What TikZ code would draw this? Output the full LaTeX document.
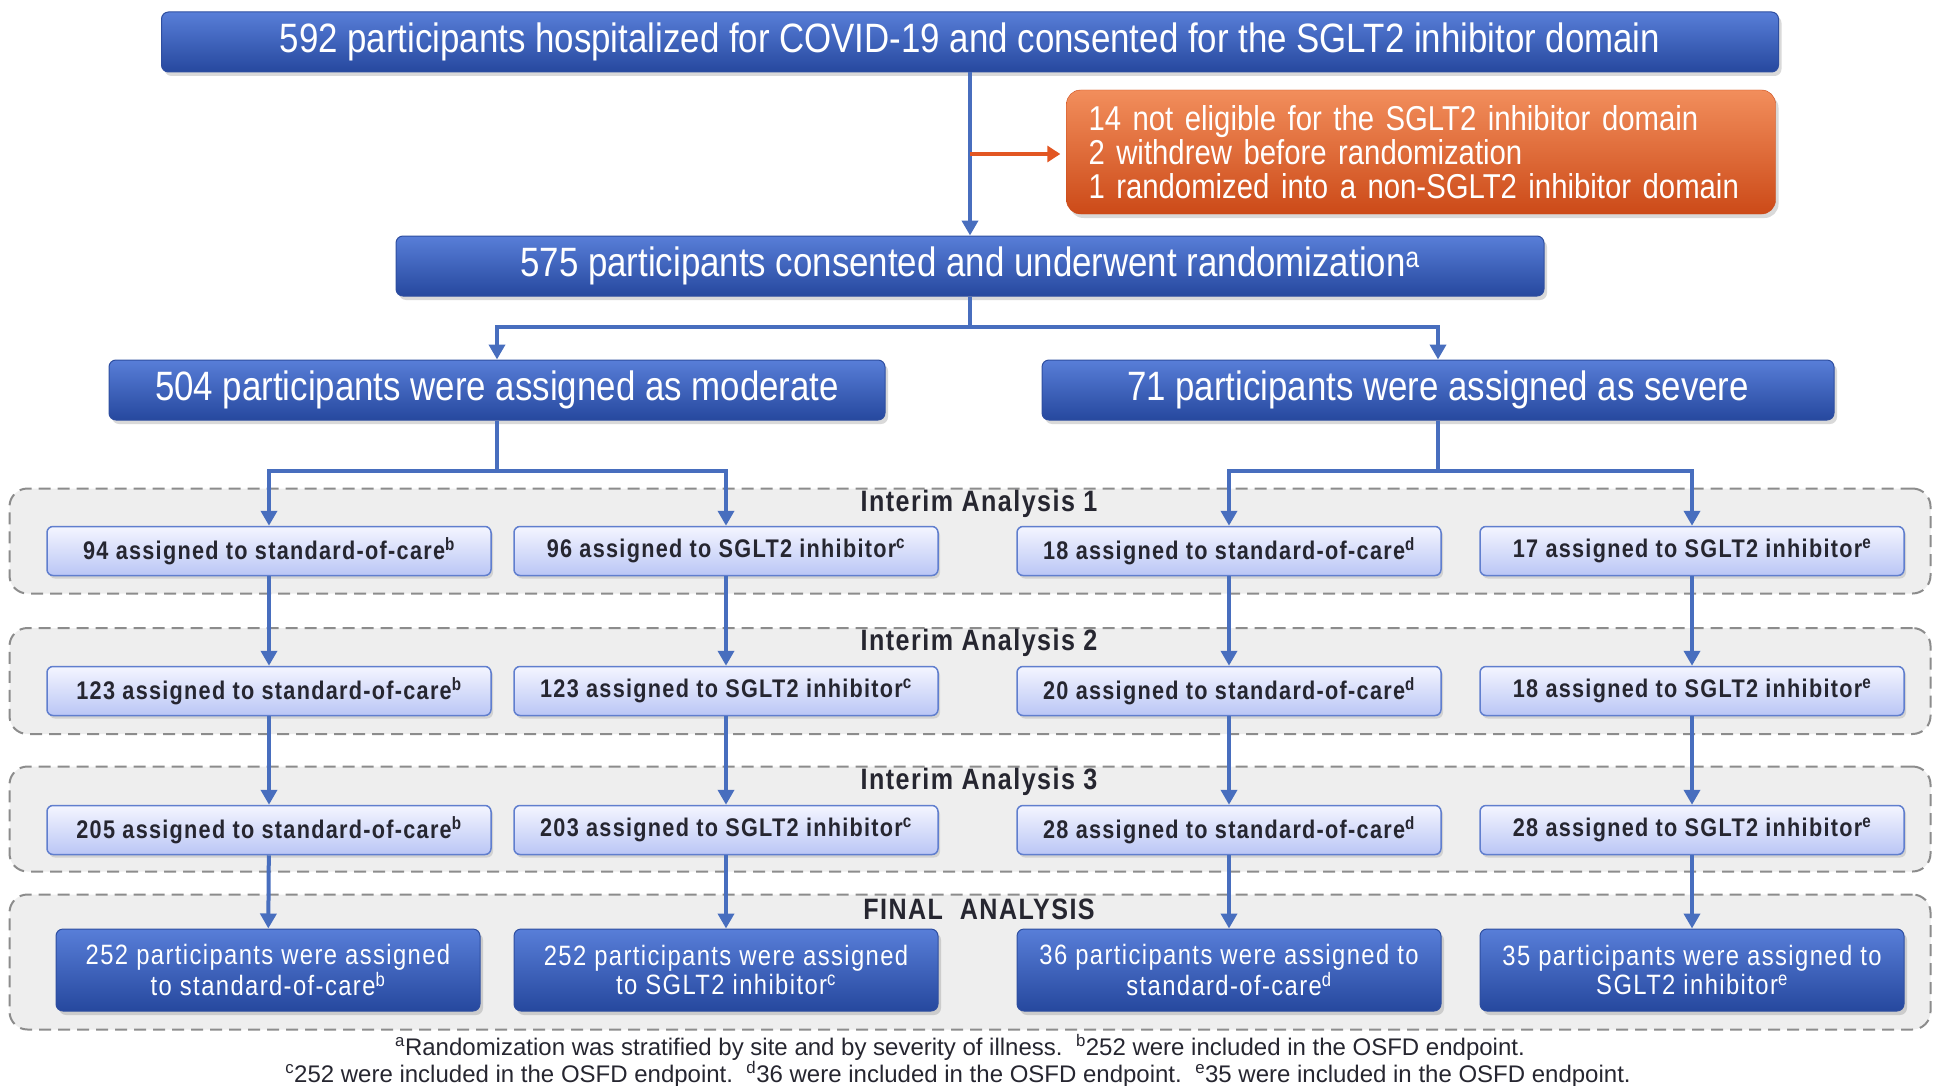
\documentclass[tikz,border=0pt]{standalone}
\usepackage{fontspec}
\setmainfont{Liberation Sans}[FakeStretch=0.85]
\newfontfamily\spacedfont{Liberation Sans}[FakeStretch=0.85,LetterSpace=5]
\newfontfamily\notefont{Liberation Sans}
\usepackage{tikz}
\usetikzlibrary{arrows.meta,calc,positioning,shadows}
\definecolor{BoxTop}{RGB}{88,126,216}
\definecolor{BoxBot}{RGB}{38,72,158}
\definecolor{BoxEdge}{RGB}{46,78,160}
\definecolor{LightTop}{RGB}{244,245,255}
\definecolor{LightBot}{RGB}{186,198,245}
\definecolor{LightEdge}{RGB}{96,126,206}
\definecolor{OrangeTop}{RGB}{242,142,92}
\definecolor{OrangeBot}{RGB}{204,74,24}
\definecolor{OrangeArrow}{RGB}{226,86,34}
\definecolor{ArrowBlue}{RGB}{72,110,190}
\definecolor{PanelFill}{RGB}{238,238,238}
\definecolor{PanelEdge}{RGB}{140,140,140}
\definecolor{TextDark}{RGB}{38,38,48}

\begin{document}
\begin{tikzpicture}[x=1pt,y=-1pt,>=Latex,
  darkbox/.style={rounded corners=7pt,top color=BoxTop,bottom color=BoxBot,draw=BoxEdge,line width=1pt,
    text=white,font=\fontsize{41}{44}\selectfont,
    drop shadow={opacity=0.3,shadow xshift=3pt,shadow yshift=-4pt}},
  orangebox/.style={rounded corners=14pt,top color=OrangeTop,bottom color=OrangeBot,draw=OrangeBot,
    text=white,font=\fontsize{34.5}{34}\selectfont,align=left,
    drop shadow={opacity=0.3,shadow xshift=3pt,shadow yshift=-4pt}},
  smallbox/.style={rounded corners=6pt,top color=LightTop,bottom color=LightBot,draw=LightEdge,line width=1.5pt,
    text=TextDark,font=\spacedfont\bfseries\fontsize{25.5}{28}\selectfont,minimum height=49pt,
    drop shadow={opacity=0.25,shadow xshift=2pt,shadow yshift=-3pt}},
  finalbox/.style={darkbox,font=\spacedfont\fontsize{28}{29}\selectfont,align=center,minimum height=82pt,minimum width=424pt},
  panel/.style={draw=PanelEdge,dash pattern=on 12pt off 7pt,line width=2pt,fill=PanelFill,
    rounded corners=18pt,minimum width=1921pt},
  stagelabel/.style={text=TextDark,font=\spacedfont\bfseries\fontsize{29.5}{30}\selectfont},
  footnote/.style={text=TextDark,font=\notefont\fontsize{24}{25}\selectfont},
  arr/.style={->,draw=ArrowBlue,line width=4pt,-{Triangle[width=16pt,length=15pt]}},
  line/.style={draw=ArrowBlue,line width=4pt},
  oarr/.style={draw=OrangeArrow,line width=4pt,-{Triangle[width=16pt,length=13pt]},shorten >=6pt}]
\useasboundingbox (0,0) rectangle (1950,1086);

% analysis panels
\node[panel,minimum height=105pt] (p1) at (970,541) {};
\node[panel,minimum height=106pt] (p2) at (970,681) {};
\node[panel,minimum height=105pt] (p3) at (970,819) {};
\node[panel,minimum height=135pt] (p4) at (970,962) {};
\node[stagelabel] (l1) at (979,504) {Interim Analysis 1};
\node[stagelabel] (l2) at (979,643) {Interim Analysis 2};
\node[stagelabel] (l3) at (979,782) {Interim Analysis 3};
\node[stagelabel] (l4) at (979,909) {FINAL\ \ ANALYSIS};

% enrolment
\node[darkbox,minimum width=1617pt,minimum height=60pt] (top) at (970,42)
  {592 participants hospitalized for COVID-19 and consented for the SGLT2 inhibitor domain};
\node[orangebox,text width=665pt,inner xsep=22pt,minimum height=124pt] (excl) at (1421,152)
  {14 not eligible for the SGLT2 inhibitor domain\\2 withdrew before randomization\\1 randomized into a non-SGLT2 inhibitor domain};
\node[darkbox,minimum width=1148pt,minimum height=60pt] (rand) at (970,266)
  {575 participants consented and underwent randomization\textsuperscript{a}};
\node[darkbox,minimum width=776pt,minimum height=60pt] (mod) at (497,390)
  {504 participants were assigned as moderate};
\node[darkbox,minimum width=792pt,minimum height=60pt] (sev) at (1438,390)
  {71 participants were assigned as severe};

% interim analysis 1
\node[smallbox,minimum width=444pt] (a1) at (269,551) {94 assigned to standard-of-care\textsuperscript{b}};
\node[smallbox,minimum width=424pt] (b1) at (726,551) {96 assigned to SGLT2 inhibitor\textsuperscript{c}};
\node[smallbox,minimum width=424pt] (c1) at (1229,551) {18 assigned to standard-of-care\textsuperscript{d}};
\node[smallbox,minimum width=424pt] (d1) at (1692,551) {17 assigned to SGLT2 inhibitor\textsuperscript{e}};
% interim analysis 2
\node[smallbox,minimum width=444pt] (a2) at (269,691) {123 assigned to standard-of-care\textsuperscript{b}};
\node[smallbox,minimum width=424pt] (b2) at (726,691) {123 assigned to SGLT2 inhibitor\textsuperscript{c}};
\node[smallbox,minimum width=424pt] (c2) at (1229,691) {20 assigned to standard-of-care\textsuperscript{d}};
\node[smallbox,minimum width=424pt] (d2) at (1692,691) {18 assigned to SGLT2 inhibitor\textsuperscript{e}};
% interim analysis 3
\node[smallbox,minimum width=444pt] (a3) at (269,830) {205 assigned to standard-of-care\textsuperscript{b}};
\node[smallbox,minimum width=424pt] (b3) at (726,830) {203 assigned to SGLT2 inhibitor\textsuperscript{c}};
\node[smallbox,minimum width=424pt] (c3) at (1229,830) {28 assigned to standard-of-care\textsuperscript{d}};
\node[smallbox,minimum width=424pt] (d3) at (1692,830) {28 assigned to SGLT2 inhibitor\textsuperscript{e}};
% final analysis
\node[finalbox] (a4) at (268,970) {252 participants were assigned\\to standard-of-care\textsuperscript{b}};
\node[finalbox] (b4) at (726,970) {252 participants were assigned\\to SGLT2 inhibitor\textsuperscript{c}};
\node[finalbox] (c4) at (1229,970) {36 participants were assigned to\\standard-of-care\textsuperscript{d}};
\node[finalbox] (d4) at (1692,970) {35 participants were assigned to\\SGLT2 inhibitor\textsuperscript{e}};

% connectors
\coordinate (jo) at (970,154);
\coordinate (jr) at (970,327);
\coordinate (jm) at (497,471);
\coordinate (js) at (1438,471);
\draw[arr] (top) -- (rand);
\draw[oarr] (jo) -- (jo -| excl.west);
\draw[line] (rand) -- (jr);
\draw[arr] (jr) -| (mod);
\draw[arr] (jr) -| (sev);
\draw[line] (mod) -- (jm);
\draw[arr] (jm) -| (a1);
\draw[arr] (jm) -| (b1);
\draw[line] (sev) -- (js);
\draw[arr] (js) -| (c1);
\draw[arr] (js) -| (d1);
\foreach \col in {a,b,c,d}{
  \draw[arr] (\col1) -- (\col2);
  \draw[arr] (\col2) -- (\col3);
  \draw[arr] (\col3) -- (\col4);
}

% footnotes
\node[footnote] (fn1) at (960,1047)
  {\textsuperscript{a}Randomization was stratified by site and by severity of illness.\ \ \textsuperscript{b}252 were included in the OSFD endpoint.};
\node[footnote] (fn2) at (958,1074)
  {\textsuperscript{c}252 were included in the OSFD endpoint.\ \ \textsuperscript{d}36 were included in the OSFD endpoint.\ \ \textsuperscript{e}35 were included in the OSFD endpoint.};
\end{tikzpicture}
\end{document}
